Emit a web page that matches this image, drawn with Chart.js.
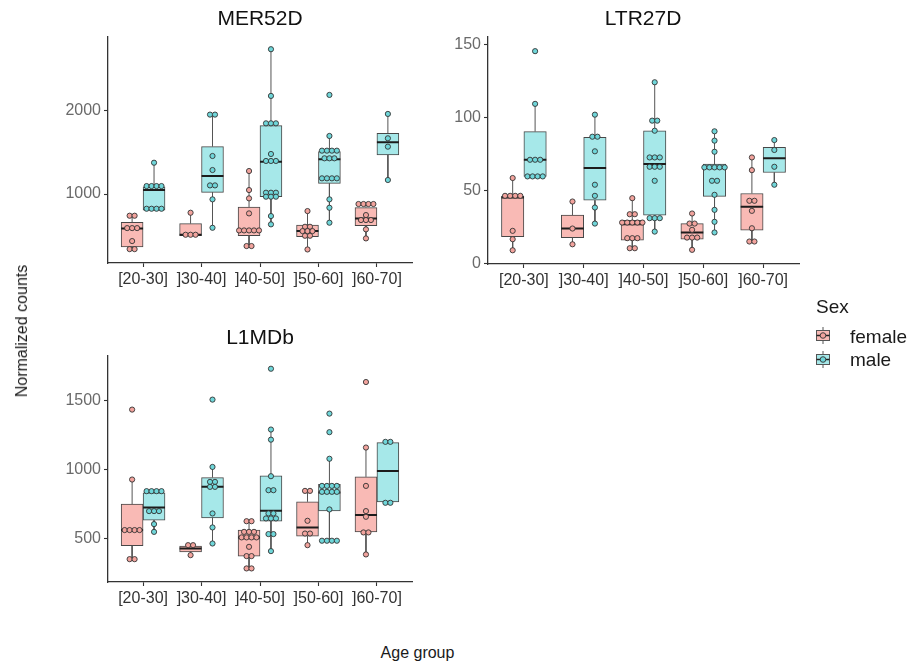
<!DOCTYPE html>
<html>
<head>
<meta charset="utf-8">
<script src="https://cdn.jsdelivr.net/npm/chart.js@4.4.1/dist/chart.umd.min.js"></script>
<style>
html,body{margin:0;padding:0;background:#fff;}
body{width:917px;height:661px;position:relative;overflow:hidden;font-family:'Liberation Sans',Arial,sans-serif;}
canvas{position:absolute;}
.t{position:absolute;white-space:nowrap;color:#1a1a1a;}
</style>
</head>
<body>
<canvas id="c1" width="520" height="300" style="left:0;top:0;width:520px;height:300px"></canvas>
<canvas id="c2" width="406" height="300" style="left:440px;top:0;width:406px;height:300px"></canvas>
<canvas id="c3" width="520" height="300" style="left:0;top:319px;width:520px;height:300px"></canvas>

<div class="t" style="left:21.5px;top:330.5px;font-size:16px;line-height:16px;transform:translate(-50%,-50%) rotate(-90deg);">Normalized counts</div>
<div class="t" style="left:417.5px;top:644.5px;font-size:16px;line-height:16px;transform:translateX(-50%);">Age group</div>

<div class="t" style="left:816px;top:297px;font-size:19px;line-height:19px;">Sex</div>
<svg style="position:absolute;left:814px;top:327px" width="18" height="17">
  <line x1="9" y1="0" x2="9" y2="17" stroke="#555" stroke-width="1"/>
  <rect x="2.5" y="3.5" width="13" height="10" fill="#F9BAB5" stroke="#555" stroke-width="1"/>
  <line x1="2.5" y1="8.5" x2="15.5" y2="8.5" stroke="#222" stroke-width="1.5"/>
  <circle cx="9" cy="8.5" r="2.8" fill="#F2A39D" stroke="#333" stroke-width="0.9"/>
</svg>
<div class="t" style="left:850px;top:327px;font-size:19px;line-height:19px;">female</div>
<svg style="position:absolute;left:814px;top:350.5px" width="18" height="17">
  <line x1="9" y1="0" x2="9" y2="17" stroke="#555" stroke-width="1"/>
  <rect x="2.5" y="3.5" width="13" height="10" fill="#A6E8E9" stroke="#555" stroke-width="1"/>
  <line x1="2.5" y1="8.5" x2="15.5" y2="8.5" stroke="#222" stroke-width="1.5"/>
  <circle cx="9" cy="8.5" r="2.8" fill="#6FD6D9" stroke="#333" stroke-width="0.9"/>
</svg>
<div class="t" style="left:850px;top:350px;font-size:19px;line-height:19px;">male</div>

<script>
// ---------------- DATA ----------------
const ageGroups = ['[20-30]', ']30-40]', ']40-50]', ']50-60]', ']60-70]'];
const sexes = ['female', 'male'];

const mer52dTicks = [1000, 2000];
const ltr27dTicks = [0, 50, 100, 150];
const l1mdbTicks = [500, 1000, 1500];

// box stats per age group: [whiskerLow, q1, median, q3, whiskerHigh]
const mer52dFemaleBox = [[337, 365, 586, 659, 739], [500, 500, 510, 643, 775], [374, 498, 566, 843, 1277], [333, 486, 554, 627, 795], [466, 620, 707, 837, 880]];
const mer52dMaleBox   = [[807, 807, 1048, 1088, 1377], [594, 1020, 1217, 1570, 1956], [635, 968, 1390, 1823, 2743], [655, 1128, 1418, 1510, 1699], [1169, 1470, 1622, 1731, 1964]];
const mer52dFemalePoints = [
  [739, 739, 590, 590, 590, 434, 337, 337],
  [775, 510, 510, 510],
  [1277, 1048, 948, 767, 562, 562, 562, 562, 562, 374, 374],
  [795, 606, 606, 554, 554, 554, 498, 498, 333],
  [880, 880, 880, 880, 747, 687, 687, 687, 575, 466]
];
const mer52dMalePoints = [
  [1377, 1096, 1096, 1096, 1096, 823, 823, 823, 823],
  [1956, 1956, 1458, 1289, 1104, 1104, 936, 594],
  [2743, 2181, 1851, 1851, 1851, 1482, 1398, 1398, 1398, 1016, 1016, 1016, 968, 968, 968, 735, 635],
  [2193, 1699, 1522, 1522, 1522, 1522, 1430, 1430, 1430, 1189, 1189, 1189, 1189, 936, 835, 655],
  [1964, 1671, 1570, 1169]
];

const ltr27dFemaleBox = [[8.9, 18.3, 45, 45.8, 58.4], [13, 17.6, 23.8, 33, 42.3], [10.3, 15.8, 26.8, 29.5, 44.6], [9.2, 16.5, 21.1, 27.2, 34.1], [14.9, 22.7, 38.7, 47.8, 72.5]];
const ltr27dMaleBox   = [[59.5, 59.5, 70.9, 90.2, 109.2], [27.2, 43.2, 65.2, 86.3, 101.8], [21.7, 33, 68, 90.8, 124], [21.1, 45.8, 65.7, 68, 90.4], [53.8, 62.2, 71.9, 79.4, 84.4]];
const ltr27dFemalePoints = [
  [58.4, 46.2, 46.2, 46.2, 46.2, 22.2, 16.5, 8.9],
  [42.3, 23.8, 13],
  [44.6, 33.6, 33.6, 27.9, 27.9, 27.9, 27.9, 27.9, 17.2, 17.2, 17.2, 10.3, 10.3],
  [34.1, 27.2, 27.2, 22.9, 17.6, 17.6, 17.6, 9.2],
  [72.5, 63.8, 42.8, 42.8, 35.9, 24, 14.9, 14.9]
];
const ltr27dMalePoints = [
  [145.3, 109.2, 70.9, 70.9, 70.9, 59.5, 59.5, 59.5, 59.5],
  [101.8, 86.7, 86.7, 76.7, 53.8, 46.2, 38.2, 27.2],
  [124, 97.7, 97.7, 90.8, 72.5, 72.5, 72.5, 66.1, 66.1, 66.1, 56.5, 30.9, 30.9, 30.9, 21.7],
  [90.4, 84, 76.4, 65.7, 65.7, 65.7, 65.7, 65.7, 56.5, 56.5, 46.9, 36.6, 28.4, 21.1],
  [84.4, 77.6, 66.1, 53.8]
];

const l1mdbFemaleBox = [[353, 450, 563, 750, 928], [382, 406, 430, 447, 454], [286, 375, 510, 563, 627], [454, 519, 582, 767, 846], [387, 550, 671, 947, 1159]];
const l1mdbMaleBox   = [[550, 635, 726, 832, 844], [466, 651, 875, 942, 1019], [411, 627, 702, 954, 1289], [486, 702, 834, 894, 1078], [760, 767, 990, 1195, 1200]];
const l1mdbFemalePoints = [
  [1433, 928, 563, 563, 563, 563, 353, 353],
  [454, 454, 382],
  [627, 627, 550, 550, 550, 510, 510, 510, 510, 442, 375, 375, 286, 286],
  [846, 846, 630, 538, 538, 454],
  [1632, 1159, 882, 700, 659, 546, 546, 387]
];
const l1mdbMalePoints = [
  [844, 844, 844, 844, 700, 700, 700, 606, 550],
  [1505, 1019, 911, 911, 875, 875, 683, 582, 466],
  [1728, 1289, 1216, 952, 851, 851, 683, 683, 647, 647, 647, 534, 534, 411],
  [1404, 1270, 1078, 882, 882, 882, 882, 839, 839, 839, 839, 712, 486, 486, 486, 486],
  [1200, 1200, 760, 760]
];

// ---------------- STYLE / BUILD ----------------
const FONT = "'Liberation Sans', Arial, sans-serif";
const DODGE = 0.1875;      // half of the dodged box width (x units)
const DOT_STEP = 0.085;    // horizontal stacking step of dots (x units)
const COLORS = {
  female: {box: '#F9BAB5', dot: '#F2A39D'},
  male:   {box: '#A6E8E9', dot: '#6FD6D9'}
};

function side(sex) { return sex === 'female' ? -1 : 1; }

function stackDots(groups, sex) {
  const out = [];
  groups.forEach((vals, i) => {
    const counts = {}, seen = {};
    vals.forEach(v => { counts[v] = (counts[v] || 0) + 1; });
    vals.forEach(v => {
      const k = seen[v] = (seen[v] === undefined ? 0 : seen[v] + 1);
      out.push({x: i + side(sex) * DODGE + (k - (counts[v] - 1) / 2) * DOT_STEP, y: v});
    });
  });
  return out;
}
function boxBars(stats, sex) {
  return stats.map((s, i) => ({x: i + side(sex) * DODGE, y: [s[1], s[3]]}));
}
function whiskerSegs(stats, sex) {
  const d = [];
  stats.forEach((s, i) => {
    const x = i + side(sex) * DODGE;
    d.push({x, y: s[3]}, {x, y: s[4]}, {x, y: null}, {x, y: s[1]}, {x, y: s[0]}, {x, y: null});
  });
  return d;
}
function medianSegs(stats, sex) {
  const d = [];
  stats.forEach((s, i) => {
    const c = i + side(sex) * DODGE;
    d.push({x: c - DODGE, y: s[2]}, {x: c + DODGE, y: s[2]}, {x: c, y: null});
  });
  return d;
}

function makePanel(id, title, ticks, yMin, yMax, boxes, points, lay) {
  const datasets = [];
  sexes.forEach(sex => {
    datasets.push({
      type: 'scatter', label: sex + ' points', data: stackDots(points[sex], sex), order: 0,
      backgroundColor: COLORS[sex].dot, borderColor: '#333', pointBackgroundColor: COLORS[sex].dot,
      pointBorderColor: '#333', pointRadius: 2.6, pointBorderWidth: 0.9, borderWidth: 0.9
    });
  });
  sexes.forEach(sex => {
    datasets.push({
      type: 'line', label: sex + ' median', data: medianSegs(boxes[sex], sex), order: 1,
      borderColor: '#1c1c1c', borderWidth: 2, pointRadius: 0, spanGaps: false, fill: false
    });
    datasets.push({
      type: 'line', label: sex + ' whiskers', data: whiskerSegs(boxes[sex], sex), order: 2,
      borderColor: '#555', borderWidth: 1, pointRadius: 0, spanGaps: false, fill: false
    });
  });
  sexes.forEach(sex => {
    datasets.push({
      type: 'bar', label: sex, data: boxBars(boxes[sex], sex), order: 3,
      backgroundColor: COLORS[sex].box, borderColor: '#474747', borderWidth: 1, borderSkipped: false,
      grouped: false, categoryPercentage: 1, barPercentage: 1
    });
  });

  const gridOpts = {display: true, offset: false, drawOnChartArea: false, drawTicks: true, tickLength: 4, tickColor: '#333', tickWidth: 1.1};
  const borderOpts = {display: true, color: '#333', width: 1.3};

  new Chart(document.getElementById(id), {
    type: 'bar',
    data: {datasets},
    options: {
      responsive: false, animation: false, events: [], devicePixelRatio: 1,
      layout: {padding: 0},
      plugins: {
        legend: {display: false}, tooltip: {enabled: false},
        title: {display: true, text: title, color: '#111', font: {family: FONT, size: 21, weight: 'normal'},
                padding: {top: 6.2, bottom: 5.6}}
      },
      scales: {
        x: {
          type: 'linear', min: -0.6, max: 4.6, offset: false,
          afterBuildTicks: s => { s.ticks = ageGroups.map((_, i) => ({value: i})); },
          afterFit: s => { s.height = lay.xh; },
          ticks: {autoSkip: false, maxRotation: 0, minRotation: 0, padding: 3, color: '#333',
                  font: {family: FONT, size: 16}, callback: v => ageGroups[Math.round(v)]},
          grid: gridOpts, border: borderOpts
        },
        y: {
          type: 'linear', position: 'left', min: yMin, max: yMax,
          afterBuildTicks: s => { s.ticks = ticks.map(v => ({value: v})); },
          afterFit: s => { s.width = lay.yw; },
          ticks: {padding: 3, color: '#6a6a6a', font: {family: FONT, size: 16}, callback: v => String(v)},
          grid: gridOpts, border: borderOpts
        },
        yRight: {
          type: 'linear', position: 'right', display: true,
          afterFit: s => { s.width = lay.rw; },
          ticks: {display: false}, grid: {display: false}, border: {display: false}
        }
      }
    }
  });
}

makePanel('c1', 'MER52D', mer52dTicks, 170, 2890,
  {female: mer52dFemaleBox, male: mer52dMaleBox},
  {female: mer52dFemalePoints, male: mer52dMalePoints},
  {yw: 108, rw: 108, xh: 37});

makePanel('c2', 'LTR27D', ltr27dTicks, -0.5, 155,
  {female: ltr27dFemaleBox, male: ltr27dMaleBox},
  {female: ltr27dFemalePoints, male: ltr27dMalePoints},
  {yw: 48, rw: 47, xh: 36});

makePanel('c3', 'L1MDb', l1mdbTicks, 188, 1820,
  {female: l1mdbFemaleBox, male: l1mdbMaleBox},
  {female: l1mdbFemalePoints, male: l1mdbMalePoints},
  {yw: 108, rw: 108, xh: 37});
</script>
</body>
</html>
